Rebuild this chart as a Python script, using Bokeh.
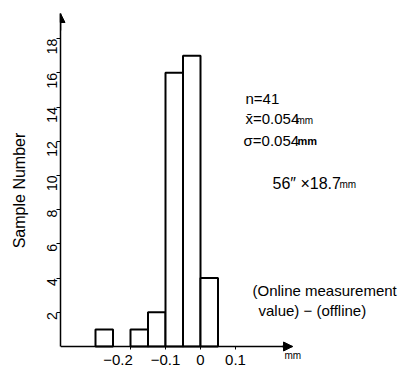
import math
from bokeh.plotting import figure
from bokeh.models import Range1d, FixedTicker, Label, Arrow, NormalHead, LinearAxis
from bokeh.embed import file_html
from bokeh.resources import INLINE

# ---- data ----
bin_left = [-0.30, -0.20, -0.15, -0.10, -0.05, 0.00]
bin_right = [-0.25, -0.15, -0.10, -0.05, 0.00, 0.05]
counts = [1, 1, 2, 16, 17, 4]
x_ticks = [-0.2, -0.1, 0.0, 0.1]
x_tick_labels = ["\u22120.2" + "\u00a0" * 6, "\u22120.1", "0", "0.1"]
y_ticks = [2, 4, 6, 8, 10, 12, 14, 16, 18]
stats_lines = ["n=41", "x\u0304=0.054", "\u03c3=0.054"]
size_text = "56\u2033 \u00d718.7"
note_lines = ["(Online measurement", "value) \u2212 (offline)"]

X_START, X_END = -0.4, 0.5857
Y_START, Y_END = -1.228, 19.47
X_AXIS_END = 0.263
FONT = "Liberation Sans"

p = figure(width=405, height=367, output_backend="svg", toolbar_location=None,
           x_range=Range1d(X_START, X_END), y_range=Range1d(Y_START, Y_END),
           x_axis_location=None,
           min_border_left=60, min_border_right=0, min_border_top=13, min_border_bottom=0)
p.outline_line_color = None
p.xgrid.visible = False
p.ygrid.visible = False
p.background_fill_color = "white"
p.border_fill_color = "white"

p.quad(left=bin_left, right=bin_right, bottom=0, top=counts,
       fill_color="white", line_color="black", line_width=2)

# x axis, drawn at y = 0 inside the frame
xa = LinearAxis(fixed_location=0)
xa.ticker = FixedTicker(ticks=x_ticks, minor_ticks=[])
xa.major_label_overrides = {t: l for t, l in zip(x_ticks, x_tick_labels)}
xa.bounds = (X_START, X_AXIS_END)
xa.axis_line_width = 1.5
xa.axis_line_color = "black"
xa.major_tick_line_color = "black"
xa.major_tick_in = 0
xa.major_tick_out = 3
xa.minor_tick_line_color = None
xa.major_label_standoff = 2
xa.major_label_text_font = FONT
xa.major_label_text_font_size = "15px"
xa.major_label_text_color = "black"
p.add_layout(xa, "below")

# y axis
ya = p.yaxis[0]
ya.ticker = FixedTicker(ticks=y_ticks, minor_ticks=[])
ya.bounds = (0, Y_END)
ya.axis_line_width = 1.5
ya.axis_line_color = "black"
ya.major_tick_line_color = "black"
ya.major_tick_in = 0
ya.major_tick_out = 4
ya.minor_tick_line_color = None
ya.major_label_orientation = math.pi / 2
ya.major_label_standoff = 4
ya.major_label_text_font = FONT
ya.major_label_text_font_size = "14px"
ya.major_label_text_color = "black"
ya.axis_label = "Sample Number"
ya.axis_label_text_font = FONT
ya.axis_label_text_font_size = "16px"
ya.axis_label_text_font_style = "normal"
ya.axis_label_text_color = "black"
ya.axis_label_standoff = 12

# arrow heads
p.add_layout(Arrow(end=NormalHead(size=9, fill_color="black", line_color="black"),
                   x_start=X_START, y_start=Y_END - 1.0, x_end=X_START, y_end=Y_END,
                   line_color="black", line_width=1.5))
p.add_layout(Arrow(end=NormalHead(size=9, fill_color="black", line_color="black"),
                   x_start=X_AXIS_END - 0.03, y_start=0, x_end=X_AXIS_END, y_end=0,
                   line_color="black", line_width=1.5))

def lab(x, y, text, size="14px", style="normal"):
    p.add_layout(Label(x=x, y=y, text=text, text_font=FONT, text_font_size=size,
                       text_font_style=style, text_color="black",
                       text_align="left", text_baseline="middle"))

# stats
lab(0.1286, 14.50, stats_lines[0], "15px")
lab(0.1286, 13.33, stats_lines[1], "15px")
lab(0.2743, 13.22, "mm", "10px")
lab(0.1229, 12.05, stats_lines[2], "15px")
lab(0.277, 11.99, "mm", "11px", "bold")
lab(0.2057, 9.53, size_text, "16px")
lab(0.397, 9.47, "mm", "10px")
lab(0.1486, 3.27, note_lines[0], "15px")
lab(0.1657, 2.11, note_lines[1], "15px")
lab(0.240, -0.53, "mm", "10px")

open("out.html", "w").write(file_html(p, INLINE))
